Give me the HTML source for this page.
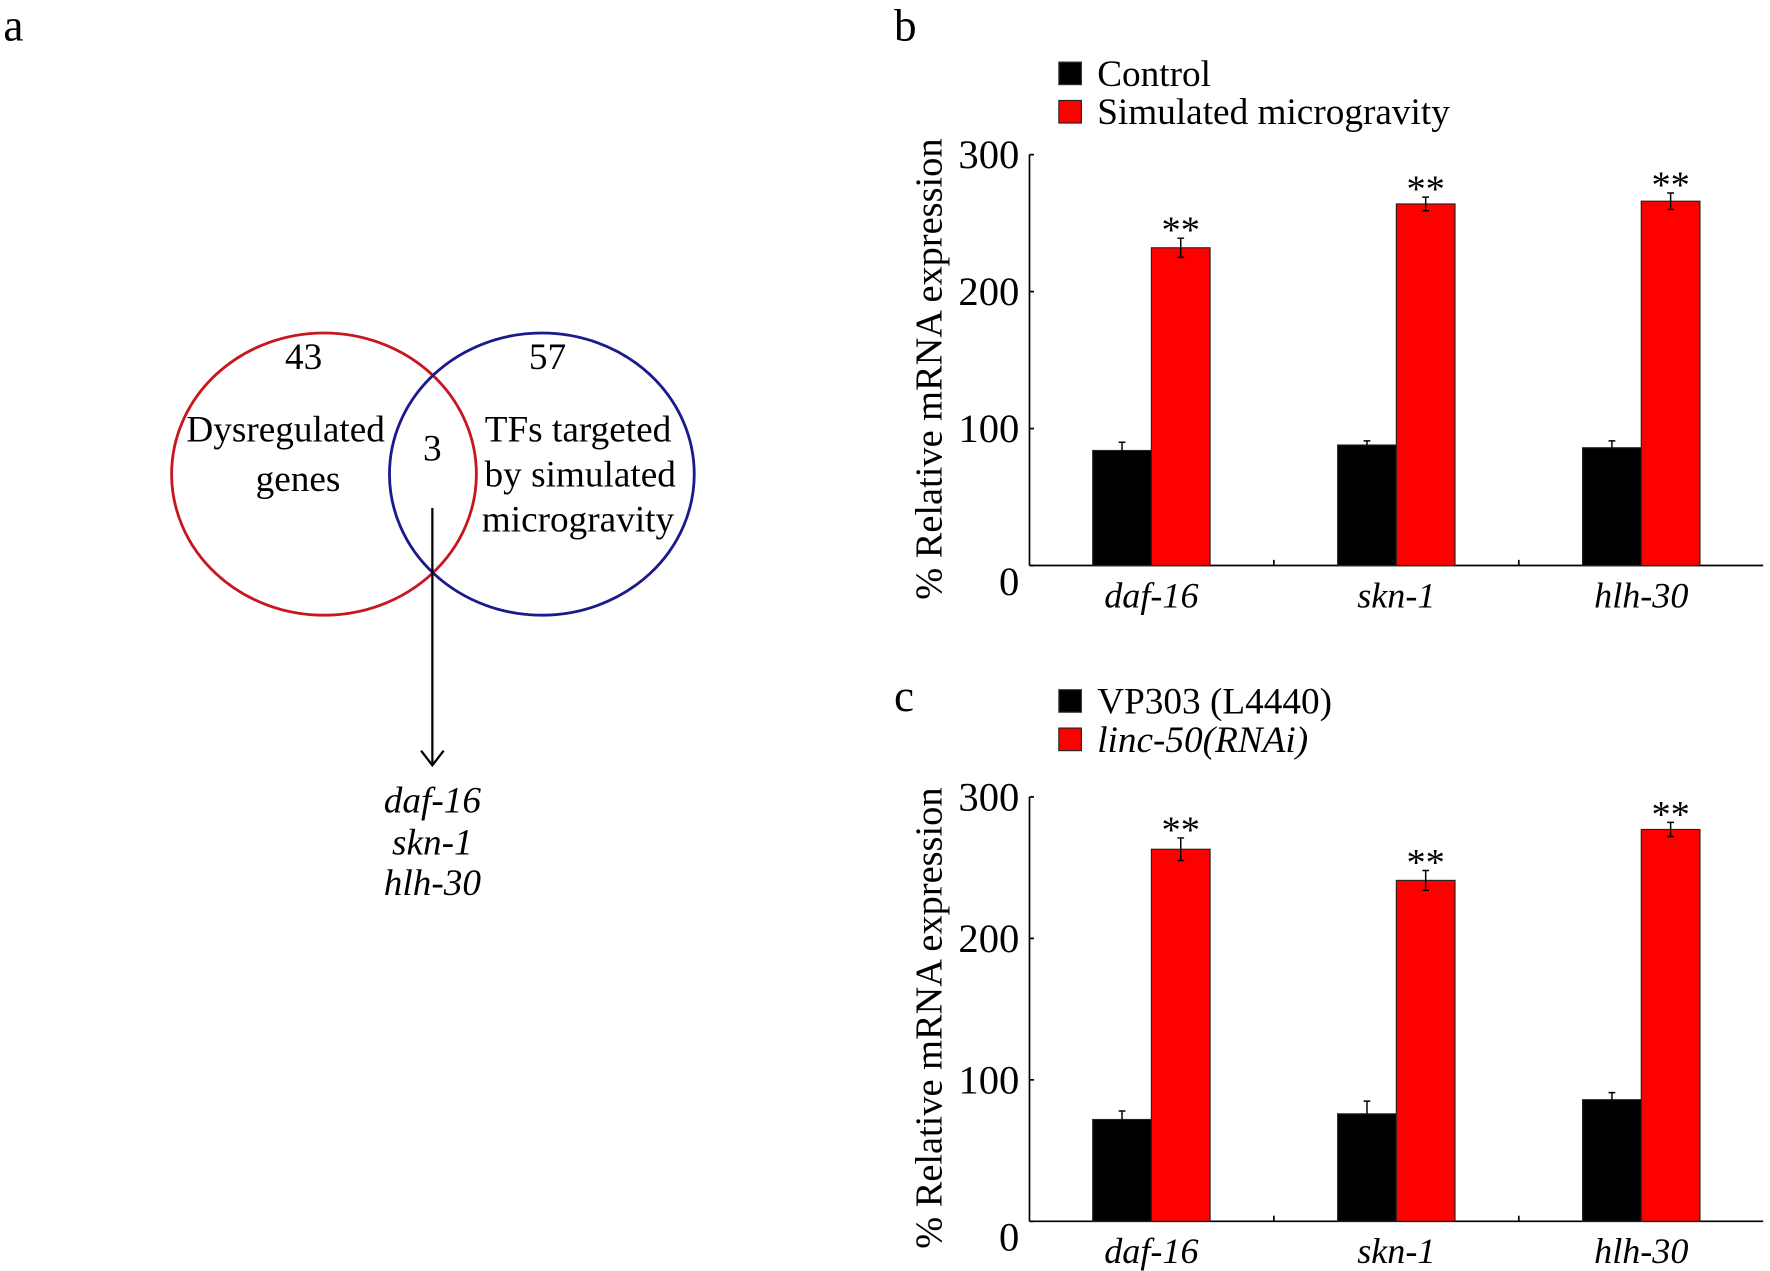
<!DOCTYPE html>
<html><head><meta charset="utf-8"><style>
html,body{margin:0;padding:0;background:#fff}
svg{display:block}
text{font-family:"Liberation Serif",serif;fill:#000}
</style></head><body>
<svg id="fig" width="1770" height="1271" viewBox="0 0 1568 1126" xmlns="http://www.w3.org/2000/svg">
<text x="3" y="36" font-size="40">a</text>
<text x="792" y="36" font-size="40">b</text>
<text x="792" y="630" font-size="40">c</text>
<g>
<ellipse cx="287" cy="420" rx="135" ry="125" fill="none" stroke="#c8161d" stroke-width="2.5"/>
<ellipse cx="480" cy="420" rx="135" ry="125" fill="none" stroke="#1a1a8c" stroke-width="2.5"/>
<g font-size="33" text-anchor="middle">
<text x="269" y="327">43</text>
<text x="485" y="327">57</text>
<text x="383" y="408">3</text>
<text x="253" y="391">Dysregulated</text>
<text x="264" y="435">genes</text>
<text x="512" y="391">TFs targeted</text>
<text x="514" y="431">by simulated</text>
<text x="512" y="471">microgravity</text>
<g font-style="italic">
<text x="383" y="720">daf-16</text>
<text x="383" y="757">skn-1</text>
<text x="383" y="793">hlh-30</text>
</g></g>
<line x1="383" y1="450" x2="383" y2="678" stroke="#000" stroke-width="2"/>
<polyline points="373,665 383,678 393,665" fill="none" stroke="#000" stroke-width="2"/>
</g>
<g id="chartB"></g>
<g id="chartC"></g>
</svg>
<script>
const categories = ["daf-16","skn-1","hlh-30"];
const yTicks = [0,100,200,300];
const bLegend = ["Control","Simulated microgravity"];
const bControl = [84,88,86];
const bControlErr = [6,3,5];
const bTreated = [232,264,266];
const bTreatedErr = [7,5,6];
const cLegend = ["VP303 (L4440)","linc-50(RNAi)"];
const cControl = [72,76,86];
const cControlErr = [6,9,5];
const cTreated = [263,241,277];
const cTreatedErr = [8,7,5];

const NS="http://www.w3.org/2000/svg";
function mk(parent,tag,attrs,txt){const e=document.createElementNS(NS,tag);for(const k in attrs)e.setAttribute(k,attrs[k]);if(txt!==undefined)e.textContent=txt;parent.appendChild(e);return e;}

function drawChart(g,prefix,y0,y300,ly,ctrl,ctrlE,trt,trtE,legend,legendItalic){
  const axX=912, axR=1562;
  const y=v=>y0+(y300-y0)*v/300;
  const groupStart=968, groupStep=217, bw=52;
  const xc=i=>groupStart+groupStep*i;
  let r=mk(g,'rect',{x:938,y:ly-21,width:20,height:20,fill:'#000',stroke:'#333'});
  
  
  let t=mk(g,'text',{x:972,y:ly,'font-size':33},legend[0]);
  
  
  r=mk(g,'rect',{x:938,y:ly+13,width:20,height:20,fill:'#f00',stroke:'#222'});
  
  
  t=mk(g,'text',{x:972,y:ly+34,'font-size':33,'font-style':legendItalic?'italic':'normal'},legend[1]);
  
  
  let l=mk(g,'line',{x1:axX,y1:y(0),x2:axX,y2:y(300),stroke:'#000','stroke-width':1.5});
  
  
  l=mk(g,'line',{x1:axX,y1:y(0),x2:axR,y2:y(0),stroke:'#000','stroke-width':1.5});
  
  
  yTicks.forEach(v=>{
    const tk=mk(g,'line',{x1:axX,y1:y(v),x2:axX+4,y2:y(v),stroke:'#000','stroke-width':1.5});
    
    
    const tl=mk(g,'text',{x:903,y:y(v)+(v===0?26:12),'font-size':36,'text-anchor':'end'},String(v));
    
    
  });
  [1,2].forEach(i=>{
    const xm=(xc(i-1)+bw*2+xc(i))/2;
    const tk=mk(g,'line',{x1:xm,y1:y(0),x2:xm,y2:y(0)-5,stroke:'#000','stroke-width':1.5});
    
    
  });
  const yt=mk(g,'text',{x:0,y:0,'font-size':34,'text-anchor':'middle',transform:`translate(834,${(y(0)+y(300))/2+8}) rotate(-90)`},'% Relative mRNA expression');
  
  
  categories.forEach((c,i)=>{
    const x=xc(i);
    const b1=mk(g,'rect',{x:x,y:y(ctrl[i]),width:bw,height:y(0)-y(ctrl[i]),fill:'#000',stroke:'#222'});
    
    
    const b2=mk(g,'rect',{x:x+bw,y:y(trt[i]),width:bw,height:y(0)-y(trt[i]),fill:'#f00',stroke:'#222'});
    
    
    [[x+bw/2,ctrl[i],ctrlE[i],'control',false],[x+1.5*bw,trt[i],trtE[i],'treated',true]].forEach(([cx,v,e,nm,both])=>{
      const eg=mk(g,'path',{d:`M${cx},${y(v+e)}V${both?y(v-e):y(v)}M${cx-3},${y(v+e)}H${cx+3}`+(both?`M${cx-3},${y(v-e)}H${cx+3}`:''),stroke:'#000','stroke-width':1.3,fill:'none'});
      
      
    });
    const s=mk(g,'text',{x:x+1.5*bw,y:y(trt[i]+trtE[i])+4,'font-size':34,'text-anchor':'middle'},'**');
    
    
    const xl=mk(g,'text',{x:x+bw,y:y(0)+37,'font-size':32,'font-style':'italic','text-anchor':'middle'},c);
    
    
  });
}
drawChart(document.getElementById('chartB'),'chart-b',501,137,76,bControl,bControlErr,bTreated,bTreatedErr,bLegend,false);
drawChart(document.getElementById('chartC'),'chart-c',1082,706,632,cControl,cControlErr,cTreated,cTreatedErr,cLegend,true);
</script>
</body></html>
